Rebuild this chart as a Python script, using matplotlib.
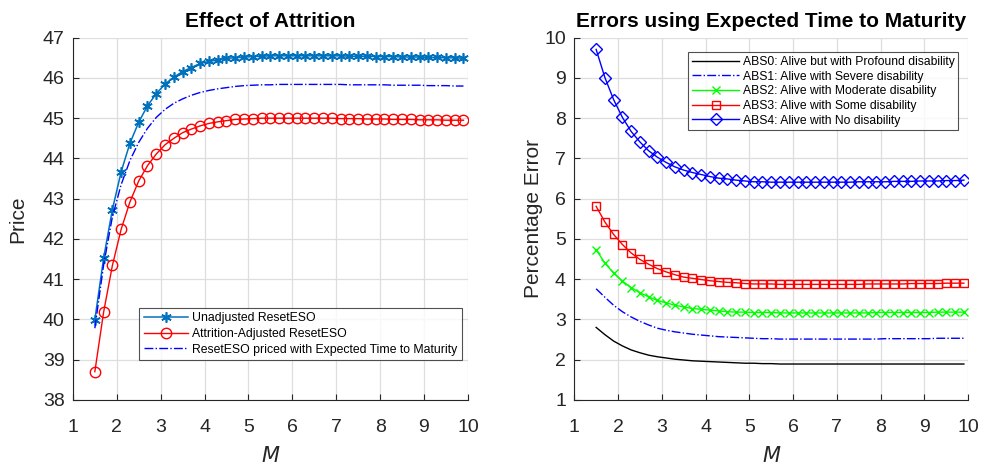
import numpy as np
import matplotlib
matplotlib.use("Agg")
import matplotlib.pyplot as plt

plt.rcParams['font.family'] = ['Liberation Sans', 'DejaVu Sans']

# M values 1.5:0.2:9.9
M = [round(1.5 + 0.2 * i, 1) for i in range(43)]

unadjusted = [39.99, 41.52, 42.73, 43.67, 44.38, 44.90, 45.31, 45.61, 45.85, 46.02,
              46.16, 46.26, 46.36, 46.41, 46.45, 46.49, 46.50, 46.52, 46.53, 46.54,
              46.55, 46.55, 46.55, 46.55, 46.55, 46.55, 46.55, 46.55, 46.55, 46.54,
              46.54, 46.54, 46.53, 46.53, 46.53, 46.52, 46.52, 46.52, 46.51, 46.51,
              46.50, 46.50, 46.49]
attrition = [38.70, 40.18, 41.34, 42.24, 42.92, 43.44, 43.82, 44.11, 44.34, 44.50,
             44.64, 44.73, 44.81, 44.87, 44.91, 44.94, 44.97, 44.98, 44.99, 45.00,
             45.00, 45.00, 45.00, 45.00, 45.00, 45.00, 45.00, 45.00, 44.99, 44.99,
             44.99, 44.98, 44.98, 44.98, 44.97, 44.97, 44.97, 44.96, 44.96, 44.96,
             44.95, 44.95, 44.95]
expected_t = [39.78, 41.35, 42.55, 43.35, 43.95, 44.40, 44.75, 45.02, 45.22, 45.37,
              45.48, 45.57, 45.64, 45.69, 45.73, 45.76, 45.79, 45.81, 45.82, 45.83,
              45.83, 45.84, 45.84, 45.84, 45.84, 45.84, 45.84, 45.84, 45.84, 45.83,
              45.83, 45.83, 45.83, 45.83, 45.82, 45.82, 45.82, 45.82, 45.81, 45.81,
              45.81, 45.80, 45.80]

abs0 = [2.80, 2.62, 2.46, 2.34, 2.24, 2.17, 2.11, 2.07, 2.04, 2.01,
        1.99, 1.97, 1.96, 1.95, 1.94, 1.93, 1.92, 1.91, 1.91, 1.90,
        1.90, 1.89, 1.89, 1.89, 1.89, 1.89, 1.89, 1.89, 1.89, 1.89,
        1.89, 1.89, 1.89, 1.89, 1.89, 1.89, 1.89, 1.89, 1.89, 1.89,
        1.89, 1.89, 1.89]
abs1 = [3.76, 3.55, 3.35, 3.19, 3.06, 2.95, 2.86, 2.78, 2.73, 2.69,
        2.66, 2.63, 2.61, 2.59, 2.57, 2.56, 2.55, 2.54, 2.53, 2.52,
        2.52, 2.51, 2.51, 2.51, 2.51, 2.51, 2.51, 2.51, 2.51, 2.51,
        2.51, 2.51, 2.51, 2.52, 2.52, 2.52, 2.52, 2.52, 2.52, 2.53,
        2.53, 2.53, 2.53]
abs2 = [4.73, 4.40, 4.15, 3.95, 3.79, 3.66, 3.56, 3.47, 3.41, 3.35,
        3.31, 3.27, 3.25, 3.23, 3.21, 3.19, 3.18, 3.18, 3.17, 3.17,
        3.17, 3.16, 3.16, 3.16, 3.16, 3.16, 3.16, 3.16, 3.16, 3.16,
        3.16, 3.16, 3.17, 3.17, 3.17, 3.17, 3.17, 3.17, 3.17, 3.18,
        3.18, 3.18, 3.18]
abs3 = [5.81, 5.42, 5.11, 4.86, 4.65, 4.49, 4.37, 4.26, 4.18, 4.11,
        4.05, 4.02, 3.99, 3.96, 3.94, 3.92, 3.91, 3.89, 3.88, 3.88,
        3.88, 3.87, 3.87, 3.87, 3.87, 3.87, 3.87, 3.87, 3.87, 3.87,
        3.87, 3.88, 3.88, 3.88, 3.88, 3.88, 3.89, 3.89, 3.89, 3.89,
        3.90, 3.90, 3.90]
abs4 = [9.71, 9.01, 8.46, 8.02, 7.67, 7.41, 7.19, 7.03, 6.90, 6.79,
        6.71, 6.65, 6.60, 6.55, 6.51, 6.49, 6.46, 6.44, 6.42, 6.42,
        6.41, 6.41, 6.41, 6.41, 6.41, 6.41, 6.41, 6.41, 6.41, 6.41,
        6.42, 6.42, 6.42, 6.42, 6.43, 6.43, 6.43, 6.44, 6.44, 6.44,
        6.45, 6.45, 6.46]

fig = plt.figure(figsize=(9.85, 4.66), dpi=100)
ax1 = fig.add_axes([0.074, 0.142, 0.401, 0.777])
ax2 = fig.add_axes([0.583, 0.142, 0.400, 0.777])

def style(ax, ylim):
    ax.set_xlim(1, 10)
    ax.set_ylim(*ylim)
    ax.set_xticks(range(1, 11))
    ax.set_yticks(range(ylim[0], ylim[1] + 1))
    ax.grid(True, color='#dedede', linewidth=0.9)
    ax.set_axisbelow(True)
    for s in ['top', 'right']:
        ax.spines[s].set_visible(False)
    for s in ['left', 'bottom']:
        ax.spines[s].set_color('#262626')
        ax.spines[s].set_linewidth(0.8)
    ax.tick_params(direction='in', length=4, width=0.8, colors='#262626',
                   labelsize=14, labelcolor='#262626')
    ax.tick_params(axis='y', pad=6)
    ax.tick_params(axis='x', pad=14)

style(ax1, (38, 47))
ax1.plot(M, unadjusted, color='#0072BD', marker=(6, 2, 0), markersize=7.5,
         linewidth=1.1, markeredgewidth=1.2, label='Unadjusted ResetESO')
ax1.plot(M, attrition, color='red', marker='o', markersize=7.5, markerfacecolor='none',
         linewidth=1.0, label='Attrition-Adjusted ResetESO')
ax1.plot(M, expected_t, color='blue', linestyle='-.', linewidth=1.0,
         label='ResetESO priced with Expected Time to Maturity')
ax1.set_title('Effect of Attrition', fontsize=15, fontweight='bold', pad=8)
ax1.set_ylabel('Price', fontsize=15, color='#262626', labelpad=11)
ax1.set_xlabel('$\\it{M}$', fontsize=15, color='#262626', labelpad=7)
leg1 = ax1.legend(loc='lower left', bbox_to_anchor=(0.168, 0.11), fontsize=8.8,
                  frameon=True, fancybox=False, edgecolor='#262626',
                  borderpad=0.35, labelspacing=0.3, handlelength=3.6,
                  handletextpad=0.4, borderaxespad=0)
leg1.get_frame().set_linewidth(0.8)

style(ax2, (1, 10))
ax2.plot(M, abs0, color='black', linewidth=1.0,
         label='ABS0: Alive but with Profound disability')
ax2.plot(M, abs1, color='blue', linestyle='-.', linewidth=1.0,
         label='ABS1: Alive with Severe disability')
ax2.plot(M, abs2, color='#00ff00', marker='x', markersize=6, linewidth=1.0,
         label='ABS2: Alive with Moderate disability')
ax2.plot(M, abs3, color='red', marker='s', markersize=6, markerfacecolor='none',
         linewidth=1.0, label='ABS3: Alive with Some disability')
ax2.plot(M, abs4, color='blue', marker='D', markersize=6.5, markerfacecolor='none',
         linewidth=1.0, label='ABS4: Alive with No disability')
ax2.set_title('Errors using Expected Time to Maturity', fontsize=15,
              fontweight='bold', pad=8)
ax2.set_ylabel('Percentage Error', fontsize=15, color='#262626', labelpad=1)
ax2.set_xlabel('$\\it{M}$', fontsize=15, color='#262626', labelpad=7)
leg2 = ax2.legend(loc='upper right', bbox_to_anchor=(0.975, 0.96), fontsize=8.75,
                  frameon=True, fancybox=False, edgecolor='#262626',
                  borderpad=0.3, labelspacing=0.22, handlelength=3.9,
                  handletextpad=0.3, borderaxespad=0)
leg2.get_frame().set_linewidth(0.8)

fig.savefig('out.png', dpi=100)
